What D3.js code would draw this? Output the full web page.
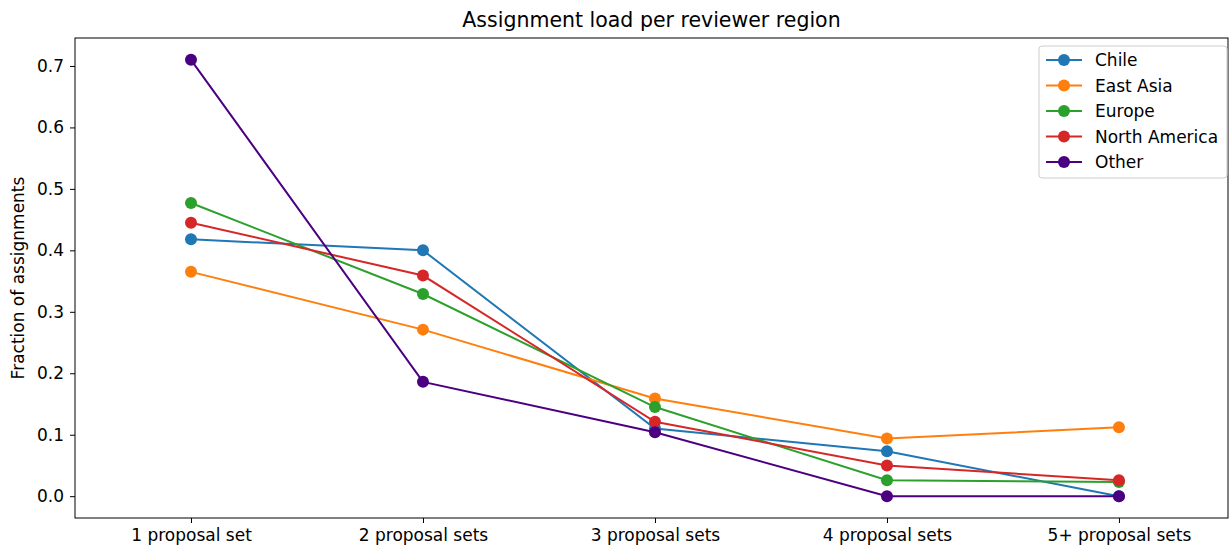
<!DOCTYPE html>
<html>
<head>
<meta charset="utf-8">
<script src="https://cdn.jsdelivr.net/npm/d3@7"></script>
<style>
  body { margin: 0; background: #fff; }
  text { font-family: "DejaVu Sans", sans-serif; fill: #000; }
</style>
</head>
<body>
<svg id="chart" width="1230" height="549"></svg>
<script>
// categories along the x axis
var categories = ["1 proposal set", "2 proposal sets", "3 proposal sets", "4 proposal sets", "5+ proposal sets"];

// one array per reviewer region (fraction of assignments)
var chile = [0.418, 0.400, 0.110, 0.073, 0.000];
var eastAsia = [0.365, 0.271, 0.159, 0.094, 0.112];
var europe = [0.477, 0.329, 0.145, 0.026, 0.023];
var northAmerica = [0.445, 0.359, 0.121, 0.050, 0.026];
var other = [0.710, 0.186, 0.104, 0.000, 0.000];

var seriesNames = ["Chile", "East Asia", "Europe", "North America", "Other"];
var yTicks = [0.0, 0.1, 0.2, 0.3, 0.4, 0.5, 0.6, 0.7];

var series = [chile, eastAsia, europe, northAmerica, other];
var colors = ["#1f77b4", "#ff7f0e", "#2ca02c", "#d62728", "#4b0082"];

var svg = d3.select("#chart");
var plotLeft = 75, plotRight = 1228, plotTop = 38, plotBottom = 518;

// x positions: index scale, half a step of padding on each side
var xScale = d3.scaleLinear()
    .domain([-0.5, 4.47])
    .range([plotLeft, plotRight]);

var yScale = d3.scaleLinear()
    .domain([-0.0355, 0.7455])
    .range([plotBottom, plotTop]);

// axes
var xAxis = d3.axisBottom(xScale)
    .tickValues(d3.range(categories.length))
    .tickFormat(function(i) { return categories[i]; })
    .tickSizeOuter(0)
    .tickSize(5)
    .tickPadding(6);

var gx = svg.append("g")
    .attr("transform", "translate(0," + plotBottom + ")")
    .call(xAxis);

var yAxis = d3.axisLeft(yScale)
    .tickValues(yTicks)
    .tickFormat(d3.format(".1f"))
    .tickSizeOuter(0)
    .tickSize(5)
    .tickPadding(6);

var gy = svg.append("g")
    .attr("transform", "translate(" + plotLeft + ",0)")
    .call(yAxis);

[gx, gy].forEach(function(g) {
    g.select(".domain").remove();
    g.selectAll("text").style("font-size", "17px").style("font-family", "DejaVu Sans");
    g.selectAll("line").attr("stroke", "#000").attr("stroke-width", 1);
});

// frame
svg.append("rect")
    .attr("x", plotLeft).attr("y", plotTop)
    .attr("width", plotRight - plotLeft).attr("height", plotBottom - plotTop)
    .attr("fill", "none").attr("stroke", "#000").attr("stroke-width", 1);

// lines and markers
var line = d3.line()
    .x(function(d, i) { return xScale(i); })
    .y(function(d) { return yScale(d); });

series.forEach(function(vals, k) {
    svg.append("path")
        .datum(vals)
        .attr("d", line)
        .attr("fill", "none")
        .attr("stroke", colors[k])
        .attr("stroke-width", 2);

    svg.selectAll(".dot" + k)
        .data(vals)
        .enter().append("circle")
        .attr("cx", function(d, i) { return xScale(i); })
        .attr("cy", function(d) { return yScale(d); })
        .attr("r", 6)
        .attr("fill", colors[k]);
});

// title and y label
svg.append("text")
    .attr("x", (plotLeft + plotRight) / 2).attr("y", 27)
    .attr("text-anchor", "middle")
    .style("font-size", "20.5px")
    .text("Assignment load per reviewer region");

svg.append("text")
    .attr("transform", "translate(24," + ((plotTop + plotBottom) / 2) + ") rotate(-90)")
    .attr("text-anchor", "middle")
    .style("font-size", "17px")
    .text("Fraction of assignments");

// legend
var legend = svg.append("g").attr("transform", "translate(1039,46)");
legend.append("rect")
    .attr("width", 188).attr("height", 132)
    .attr("rx", 3)
    .attr("fill", "#fff").attr("fill-opacity", 0.8)
    .attr("stroke", "#ccc");

seriesNames.forEach(function(name, k) {
    var y = 14 + k * 25.5;
    legend.append("line")
        .attr("x1", 7).attr("x2", 43)
        .attr("y1", y).attr("y2", y)
        .attr("stroke", colors[k]).attr("stroke-width", 2);
    legend.append("circle")
        .attr("cx", 25).attr("cy", y).attr("r", 6)
        .attr("fill", colors[k]);
    legend.append("text")
        .attr("x", 56).attr("y", y + 6)
        .style("font-size", "17px")
        .text(name);
});
</script>
</body>
</html>
